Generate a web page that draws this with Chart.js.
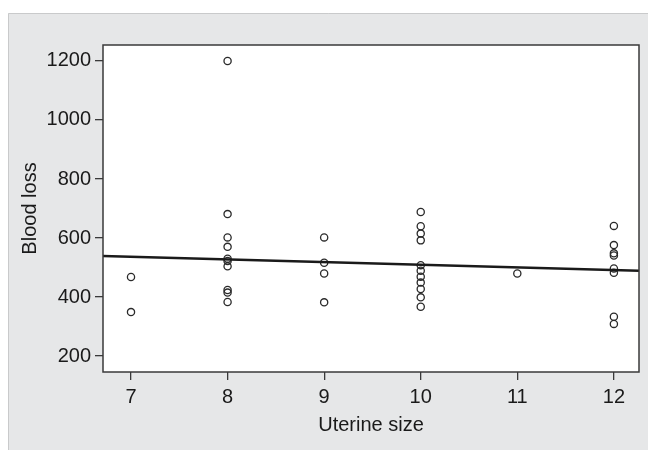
<!DOCTYPE html>
<html lang="en">
<head>
  <meta charset="UTF-8" />
  <title>Blood loss vs uterine size</title>
  <script src="https://cdn.jsdelivr.net/npm/chart.js"></script>
  <style>
    html, body { margin: 0; padding: 0; background: #ffffff; }
    #wrap { position: relative; width: 648px; height: 450px; }
  </style>
</head>
<body>
<div id="wrap"><canvas id="scatter" width="648" height="450"></canvas></div>

<script>
  // blood loss values grouped by uterine size (weeks)
  const sizes = [7, 8, 9, 10, 11, 12];
  const loss7 = [468, 349];
  const loss8 = [1200, 681, 602, 570, 530, 522, 504, 424, 415, 383];
  const loss9 = [602, 516, 480, 382];
  const loss10 = [688, 640, 615, 592, 508, 489, 469, 449, 427, 399, 367];
  const loss11 = [480];
  const loss12 = [641, 576, 548, 541, 497, 482, 333, 309];

  // fitted line, read at the two ends of the x range
  const fitX = [6.71, 12.26];
  const fitY = [539, 489];

  const xTicks = [7, 8, 9, 10, 11, 12];
  const yTicks = [200, 400, 600, 800, 1000, 1200];

  const groups = [loss7, loss8, loss9, loss10, loss11, loss12];
  const points = [];
  groups.forEach((g, i) => g.forEach(v => points.push({ x: sizes[i], y: v })));

  const ink = '#3a3a3a';
  const txt = '#1a1a1a';
  const fontFam = "'Liberation Sans', Arial, sans-serif";

  const panelBg = {
    id: 'panelBg',
    beforeDraw(chart) {
      const ctx = chart.ctx;
      const a = chart.chartArea;
      ctx.save();
      ctx.fillStyle = '#e6e7e8';
      ctx.fillRect(8, 13, 640, 437);
      ctx.strokeStyle = '#c9cacb';
      ctx.lineWidth = 1;
      ctx.beginPath();
      ctx.moveTo(8.5, 450);
      ctx.lineTo(8.5, 13.5);
      ctx.lineTo(648, 13.5);
      ctx.stroke();
      ctx.fillStyle = '#ffffff';
      ctx.fillRect(a.left, a.top, a.right - a.left, a.bottom - a.top);
      ctx.restore();
    },
    afterDraw(chart) {
      const ctx = chart.ctx;
      const a = chart.chartArea;
      ctx.save();
      ctx.strokeStyle = ink;
      ctx.lineWidth = 1.5;
      ctx.strokeRect(a.left, a.top, a.right - a.left, a.bottom - a.top);
      ctx.restore();
    }
  };

  new Chart(document.getElementById('scatter'), {
    type: 'scatter',
    data: {
      datasets: [
        {
          label: 'Blood loss',
          data: points,
          pointStyle: 'circle',
          pointRadius: 3.6,
          pointBorderWidth: 1.3,
          pointBorderColor: '#2a2a2a',
          pointBackgroundColor: 'rgba(0,0,0,0)',
          order: 2
        },
        {
          label: 'Fit',
          type: 'line',
          data: fitX.map((x, i) => ({ x: x, y: fitY[i] })),
          borderColor: '#1a1a1a',
          borderWidth: 2.6,
          pointRadius: 0,
          fill: false,
          order: 1
        }
      ]
    },
    options: {
      responsive: false,
      animation: false,
      layout: { padding: { top: 45, right: 9, left: 0, bottom: 0 } },
      plugins: {
        legend: { display: false },
        tooltip: { enabled: false }
      },
      scales: {
        x: {
          type: 'linear',
          min: 6.71,
          max: 12.26,
          afterBuildTicks: s => { s.ticks = xTicks.map(v => ({ value: v })); },
          afterFit: s => { s.height = 78; },
          grid: { drawOnChartArea: false, drawTicks: true, tickLength: 8, color: ink, lineWidth: 1.3 },
          border: { display: false },
          ticks: { color: txt, padding: 5, font: { family: fontFam, size: 20 }, callback: v => String(v) },
          title: {
            display: true,
            text: 'Uterine size',
            color: txt,
            padding: { top: 0, bottom: 13 },
            font: { family: fontFam, size: 20 }
          }
        },
        y: {
          min: 146,
          max: 1254,
          afterBuildTicks: s => { s.ticks = yTicks.map(v => ({ value: v })); },
          afterFit: s => { s.width = 103; },
          grid: { drawOnChartArea: false, drawTicks: true, tickLength: 8, color: ink, lineWidth: 1.3 },
          border: { display: false },
          ticks: { color: txt, padding: 4, font: { family: fontFam, size: 20 }, callback: v => String(v) },
          title: {
            display: true,
            text: 'Blood loss',
            color: txt,
            padding: { top: 18, bottom: 0 },
            font: { family: fontFam, size: 20 }
          }
        }
      }
    },
    plugins: [panelBg]
  });
</script>
</body>
</html>
